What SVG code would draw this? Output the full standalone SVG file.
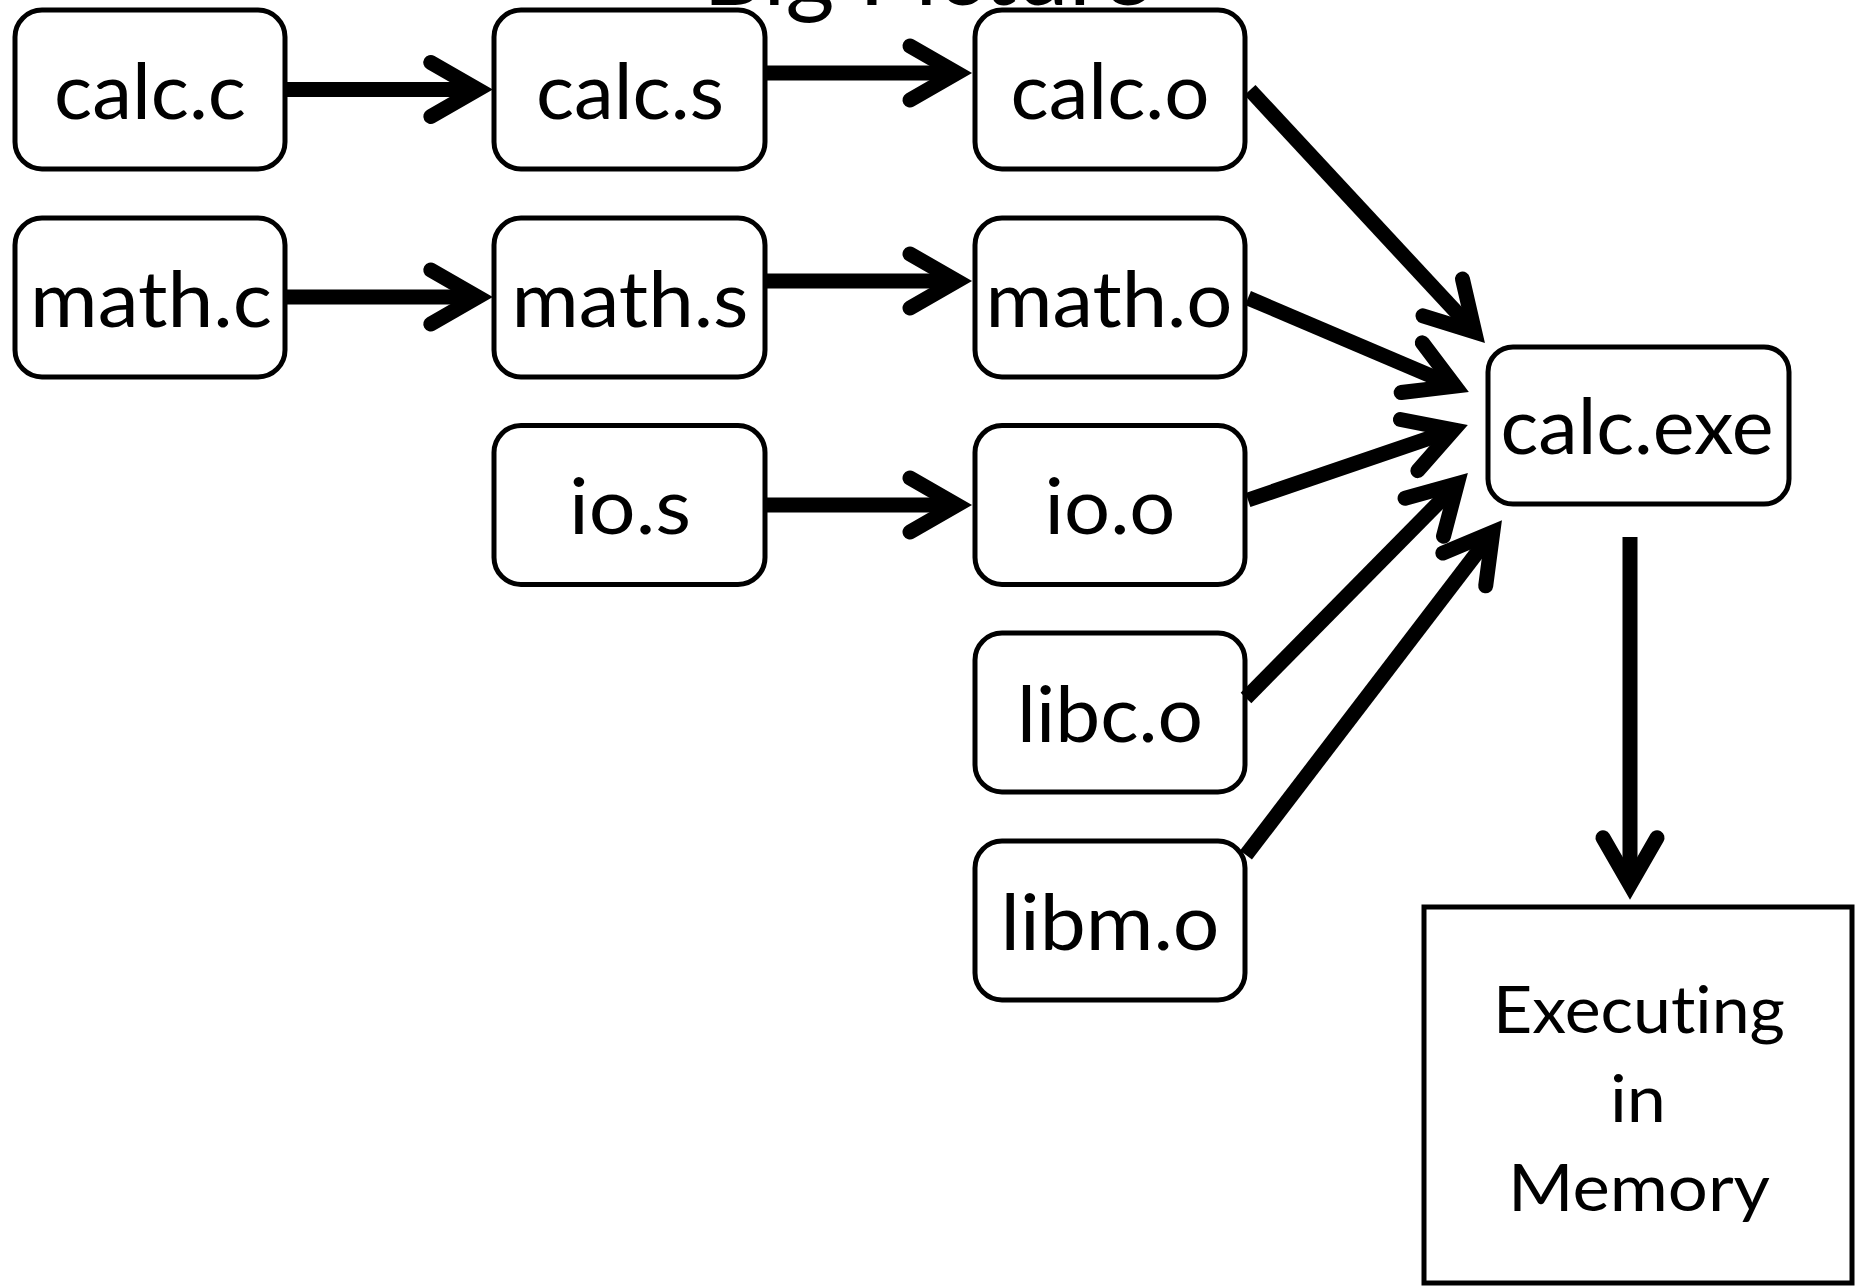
<svg xmlns="http://www.w3.org/2000/svg" width="1866" height="1288" viewBox="0 0 1866 1288">
<style>
text{font-variant-ligatures:none;font-feature-settings:"liga" 0,"clig" 0}
.node{fill:#fff;stroke:#000;stroke-width:5}
.lbl{font-family:Lato,"Open Sans","Liberation Sans",sans-serif;font-size:77px;fill:#000;text-anchor:middle}
.big{font-family:Lato,"Open Sans","Liberation Sans",sans-serif;font-size:66px;fill:#000;text-anchor:middle}
.title{font-family:Lato,"Open Sans","Liberation Sans",sans-serif;font-size:96px;fill:#000}
.edge{fill:none;stroke:#000;stroke-width:15;stroke-linecap:butt;marker-end:url(#ah)}
</style>
<defs>
<marker id="ah" markerUnits="userSpaceOnUse" viewBox="-60 -40 70 80" refX="0" refY="0" markerWidth="70" markerHeight="80" orient="auto" overflow="visible">
<path d="M-47,-27 L0,0 L-47,27" fill="none" stroke="#000" stroke-width="15" stroke-linecap="round" stroke-linejoin="miter"/>
</marker>
</defs>
<rect width="1866" height="1288" fill="#fff"/>
<text class="title" x="703" y="5" textLength="448" lengthAdjust="spacingAndGlyphs">Big Picture</text>

<g id="calc_c"><rect class="node" x="15" y="10" width="270" height="159" rx="27"/><text class="lbl" x="150" y="118.5" textLength="192" lengthAdjust="spacingAndGlyphs">calc.c</text></g>
<g id="calc_s"><rect class="node" x="494" y="10" width="271" height="159" rx="27"/><text class="lbl" x="630" y="118.5" textLength="188" lengthAdjust="spacingAndGlyphs">calc.s</text></g>
<g id="calc_o"><rect class="node" x="975" y="10" width="270" height="159" rx="27"/><text class="lbl" x="1110" y="118.5" textLength="199" lengthAdjust="spacingAndGlyphs">calc.o</text></g>

<g id="math_c"><rect class="node" x="15" y="218" width="270" height="159" rx="27"/><text class="lbl" x="151" y="326.5" textLength="242" lengthAdjust="spacingAndGlyphs">math.c</text></g>
<g id="math_s"><rect class="node" x="494" y="218" width="271" height="159" rx="27"/><text class="lbl" x="630" y="326.5" textLength="237" lengthAdjust="spacingAndGlyphs">math.s</text></g>
<g id="math_o"><rect class="node" x="975" y="218" width="270" height="159" rx="27"/><text class="lbl" x="1109" y="326.5" textLength="247" lengthAdjust="spacingAndGlyphs">math.o</text></g>

<g id="io_s"><rect class="node" x="494" y="425.5" width="271" height="159" rx="27"/><text class="lbl" x="630" y="534" textLength="122" lengthAdjust="spacingAndGlyphs">io.s</text></g>
<g id="io_o"><rect class="node" x="975" y="425.5" width="270" height="159" rx="27"/><text class="lbl" x="1110" y="534" textLength="131" lengthAdjust="spacingAndGlyphs">io.o</text></g>

<g id="libc_o"><rect class="node" x="975" y="633" width="270" height="159" rx="27"/><text class="lbl" x="1110" y="741.5" textLength="186" lengthAdjust="spacingAndGlyphs">libc.o</text></g>
<g id="libm_o"><rect class="node" x="975" y="841" width="270" height="159" rx="27"/><text class="lbl" x="1110" y="949.5" textLength="219" lengthAdjust="spacingAndGlyphs">libm.o</text></g>

<g id="calc_exe"><rect class="node" x="1488" y="347" width="301" height="157" rx="25"/><text class="lbl" x="1637" y="454" textLength="273" lengthAdjust="spacingAndGlyphs">calc.exe</text></g>

<g id="memory"><rect class="node" x="1424" y="907" width="428" height="376"/>
<text class="big" x="1639" y="1033" textLength="292" lengthAdjust="spacingAndGlyphs">Executing</text>
<text class="big" x="1638" y="1122" textLength="56" lengthAdjust="spacingAndGlyphs">in</text>
<text class="big" x="1639" y="1211" textLength="262" lengthAdjust="spacingAndGlyphs">Memory</text></g>

<g id="connectors">
<path class="edge" d="M286,89.5 L477.8,89.5"/>
<path class="edge" d="M286,297 L477.8,297"/>
<path class="edge" d="M765,73 L957,73"/>
<path class="edge" d="M765,281 L957,281"/>
<path class="edge" d="M765,505 L957,505"/>
<path class="edge" d="M1250,90 L1474.7,331.9"/>
<path class="edge" d="M1248,298 L1455,386.1"/>
<path class="edge" d="M1248,500 L1453.6,429.9"/>
<path class="edge" d="M1246,698 L1457.3,483.8"/>
<path class="edge" d="M1246,855 L1492.8,532.1"/>
<path class="edge" d="M1630,537 L1630,884.8"/>
</g>
</svg>
